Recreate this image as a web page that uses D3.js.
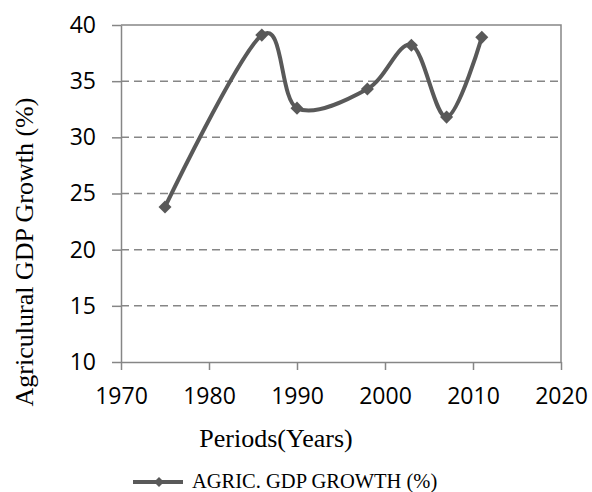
<!DOCTYPE html>
<html>
<head>
<meta charset="utf-8">
<script src="https://cdn.jsdelivr.net/npm/d3@7"></script>
<style>
  body { margin: 0; background: #fff; }
  svg { display: block; }
</style>
</head>
<body>
<svg></svg>
<script>
const width = 592;
const height = 492;

// data
const years = [1975, 1986, 1990, 1998, 2003, 2007, 2011];
const growth = [23.8, 39.1, 32.6, 34.3, 38.2, 31.8, 38.9];
const xTicks = [1970, 1980, 1990, 2000, 2010, 2020];
const yTicks = [10, 15, 20, 25, 30, 35, 40];
const seriesName = "AGRIC. GDP GROWTH (%)";

const points = years.map((y, i) => ({ year: y, value: growth[i] }));

const plotLeft = 121, plotRight = 561, plotTop = 25, plotBottom = 362;
const axisColor = "#868686";
const lineColor = "#595959";

const svg = d3.select("svg")
  .attr("width", width)
  .attr("height", height);

svg.append("rect")
  .attr("width", width)
  .attr("height", height)
  .attr("fill", "#fff");

const x = d3.scaleLinear().domain([1970, 2020]).range([plotLeft, plotRight]);
const y = d3.scaleLinear().domain([10, 40]).range([plotBottom, plotTop]);

// dashed gridlines
svg.append("g")
  .selectAll("line")
  .data(yTicks.filter(d => d > 10 && d < 40))
  .enter()
  .append("line")
  .attr("x1", plotLeft)
  .attr("x2", plotRight)
  .attr("y1", d => y(d))
  .attr("y2", d => y(d))
  .attr("stroke", axisColor)
  .attr("stroke-width", 1.5)
  .attr("stroke-dasharray", "8,5");

// plot border top + right
svg.append("path")
  .attr("d", `M${plotLeft},${plotTop}H${plotRight}V${plotBottom}`)
  .attr("fill", "none")
  .attr("stroke", axisColor)
  .attr("stroke-width", 1.5);

// y axis
const yAxis = svg.append("g")
  .attr("transform", `translate(${plotLeft},0)`)
  .call(d3.axisLeft(y).tickValues(yTicks).tickSize(9).tickPadding(16).tickSizeOuter(0));

// x axis
const xAxis = svg.append("g")
  .attr("transform", `translate(0,${plotBottom})`)
  .call(d3.axisBottom(x).tickValues(xTicks).tickFormat(d3.format("d")).tickSize(8).tickPadding(18).tickSizeOuter(0));

[yAxis, xAxis].forEach(g => {
  g.select(".domain").attr("stroke", axisColor).attr("stroke-width", 1.5);
  g.selectAll(".tick line").attr("stroke", axisColor).attr("stroke-width", 1.5);
  g.selectAll(".tick text")
    .attr("fill", "#000")
    .style("font-family", "'Open Sans', sans-serif")
    .style("font-size", "23px");
});

// series line
const line = d3.line()
  .x(d => x(d.year))
  .y(d => y(d.value))
  .curve(d3.curveCatmullRom.alpha(0));

svg.append("path")
  .datum(points)
  .attr("d", line)
  .attr("fill", "none")
  .attr("stroke", lineColor)
  .attr("stroke-width", 4);

const diamond = d3.symbol().type(d3.symbolSquare).size(85);

svg.append("g")
  .selectAll("path")
  .data(points)
  .enter()
  .append("path")
  .attr("d", diamond)
  .attr("transform", d => `translate(${x(d.year)},${y(d.value)}) rotate(45)`)
  .attr("fill", lineColor);

// axis titles
svg.append("text")
  .attr("transform", `translate(33,252) rotate(-90)`)
  .attr("text-anchor", "middle")
  .style("font-family", "'Liberation Serif', 'Times New Roman', serif")
  .style("font-size", "26px")
  .text("Agriculural GDP Growth (%)");

svg.append("text")
  .attr("x", 276)
  .attr("y", 447)
  .attr("text-anchor", "middle")
  .style("font-family", "'Liberation Serif', 'Times New Roman', serif")
  .style("font-size", "26px")
  .text("Periods(Years)");

// legend
const legend = svg.append("g").attr("transform", "translate(133,482)");
legend.append("line")
  .attr("x1", 0).attr("x2", 50)
  .attr("stroke", lineColor)
  .attr("stroke-width", 4);
legend.append("path")
  .attr("d", d3.symbol().type(d3.symbolSquare).size(50))
  .attr("transform", "translate(26,0) rotate(45)")
  .attr("fill", lineColor);
legend.append("text")
  .attr("x", 59)
  .attr("y", 6)
  .style("font-family", "'Liberation Serif', 'Times New Roman', serif")
  .style("font-size", "20.5px")
  .text(seriesName);
</script>
</body>
</html>
